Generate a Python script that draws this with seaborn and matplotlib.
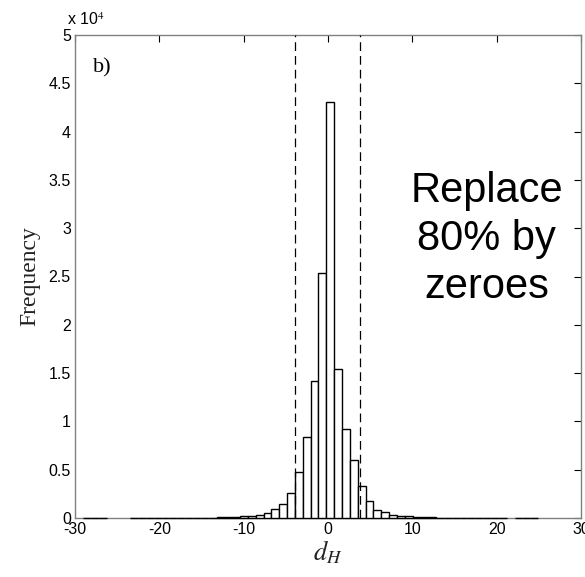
import numpy as np
import pandas as pd
import matplotlib
matplotlib.use("Agg")
import matplotlib.pyplot as plt
import seaborn as sns
from matplotlib.ticker import FuncFormatter

# ---- data ----
bin_start = -29.03
bin_width = 0.93
counts = [15, 10, 12, 0, 0, 0, 8, 10, 12, 10, 15, 18, 20, 25, 30, 35, 45, 55, 70, 100,
          170, 240, 340, 500, 890, 1480, 2600, 4800, 8400, 14200, 25400,
          43100, 15450, 9200, 5960, 3300, 1800, 860, 580, 300, 200, 160, 90, 70, 55, 45,
          35, 30, 25, 20, 15, 12, 10, 8, 0, 10, 12, 8]
threshold_lines = [-3.9, 3.75]
x_ticks = [-30, -20, -10, 0, 10, 20, 30]
y_ticks = [0, 5000, 10000, 15000, 20000, 25000, 30000, 35000, 40000, 45000, 50000]

n = len(counts)
edges = bin_start + bin_width * np.arange(n + 1)
centers = (edges[:-1] + edges[1:]) / 2
df = pd.DataFrame({"dH": centers, "count": counts})

sns.set_style("white")
plt.rcParams["font.family"] = ["Liberation Sans", "DejaVu Sans"]
plt.rcParams["mathtext.fontset"] = "stix"
plt.rcParams["axes.unicode_minus"] = False
plt.rcParams["text.color"] = "black"
plt.rcParams["axes.labelcolor"] = "black"

fig = plt.figure(figsize=(5.85, 5.77), dpi=100)
ax = fig.add_axes([75 / 585, 59 / 577, 506 / 585, 483 / 577])

sns.histplot(data=df, x="dH", weights="count", binwidth=bin_width,
             binrange=(float(edges[0]), float(edges[-1]) - 1e-6), ax=ax,
             color="white", edgecolor="black", linewidth=1.0, alpha=1)

for p, c in zip(ax.patches, counts):
    p.set_zorder(3)
    p.set_clip_on(False)
    if c == 0:
        p.set_visible(False)

for xv in threshold_lines:
    ax.axvline(xv, color="black", lw=0.9, linestyle=(0, (7, 4)), zorder=4)

ax.set_xlim(-30, 30)
ax.set_ylim(0, 50000)
ax.set_xticks(x_ticks)
ax.set_yticks(y_ticks)
ax.yaxis.set_major_formatter(FuncFormatter(lambda v, p: f"{v / 1e4:g}"))
ax.tick_params(direction="in", length=5, width=0.8, top=True, right=True,
               labelsize=11.5, colors="black", pad=3)
for s in ax.spines.values():
    s.set_visible(True)
    s.set_color("#808080")
    s.set_linewidth(1.0)
    s.set_zorder(2)

ax.set_ylabel("Frequency", family=["Liberation Serif", "DejaVu Serif"], fontsize=17,
              labelpad=6, color="#222222")
ax.set_xlabel(r"$d_H$", fontsize=19, labelpad=1, color="#222222")

ax.text(-27.9, 46100, "b)", family=["Liberation Serif", "DejaVu Serif"], fontsize=16,
        ha="left", va="baseline", color="black")
fig.text(67 / 585, 1 - 25 / 577, r"x 10$^4$", fontsize=11.5, ha="left", va="baseline",
         color="black")

ax.text(18.8, 35900, "Replace\n80% by\nzeroes", fontsize=30, ha="center", va="top",
        linespacing=1.25, multialignment="center", color="black")

fig.savefig("out.png", dpi=100)
